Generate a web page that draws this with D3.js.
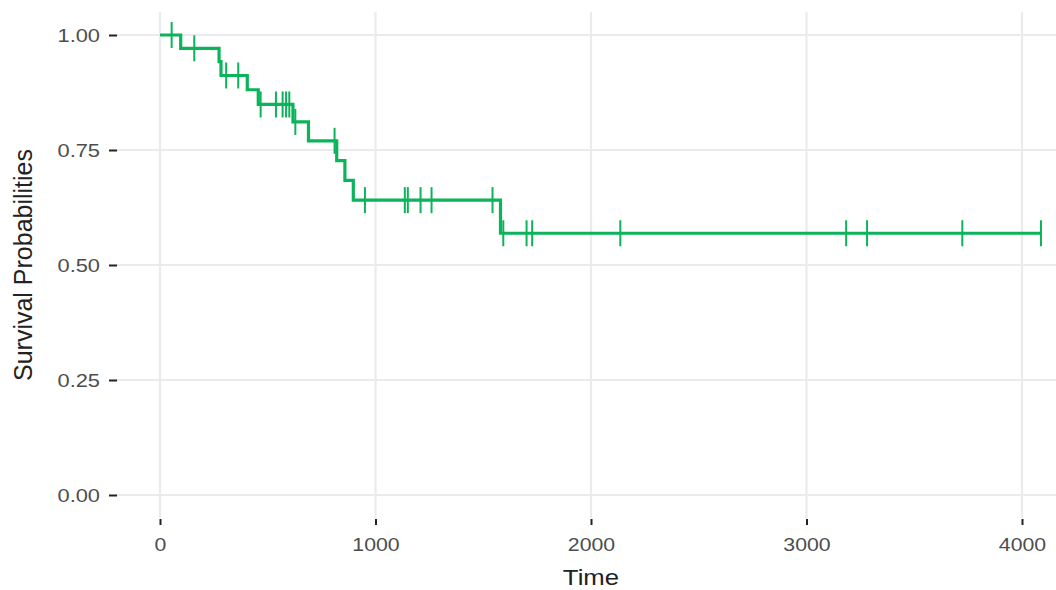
<!DOCTYPE html>
<html>
<head>
<meta charset="utf-8">
<script src="https://cdn.jsdelivr.net/npm/d3@7"></script>
<style>
body{margin:0;background:#fff;}
svg{display:block;}
text{font-family:"Liberation Sans",Arial,sans-serif;}
</style>
</head>
<body>
<svg id="chart" width="1056" height="590"></svg>
<script>
// step times (deaths) and survival after each step
var stepTimes = [0, 96, 274, 283, 405, 456, 617, 689, 820, 858, 897, 1580];
var stepSurv = [1.0, 0.971, 0.942, 0.912, 0.881, 0.849, 0.811, 0.770, 0.727, 0.684, 0.641, 0.569];
var lastTime = 4088;
// censored times
var censorTimes = [54, 159, 307, 363, 467, 538, 569, 585, 600, 628, 810, 951, 1136, 1150, 1209, 1260,
	1543, 1593, 1701, 1727, 2136, 3184, 3281, 3723, 4088];
var xTicks = [0, 1000, 2000, 3000, 4000];
var yTicks = [0, 0.25, 0.5, 0.75, 1.0];
var yTickLabels = ["0.00", "0.25", "0.50", "0.75", "1.00"];

const chart = d3.select("#chart");
var green = "#0bb45a";
var panel = {left:116, right:1084, top:12, bottom:518};

var xScale = d3.scaleLinear()
	.domain([0, 4000])
	.range([160, 1022]);
var yScale = d3.scaleLinear()
	.domain([0, 1])
	.range([495, 35]);

function survAt(t){
	var s = stepSurv[0];
	for(var i=0;i<stepTimes.length;i++){
		if(stepTimes[i]<=t){ s = stepSurv[i]; }
	}
	return s;
}

// grid
chart.append("g")
	.selectAll("line")
	.data(xTicks)
	.enter()
	.append("line")
	.attr("x1",function(d){return xScale(d);})
	.attr("x2",function(d){return xScale(d);})
	.attr("y1",panel.top)
	.attr("y2",panel.bottom)
	.attr("stroke","#ebebeb")
	.attr("stroke-width",2.2);

chart.append("g")
	.selectAll("line")
	.data(yTicks)
	.enter()
	.append("line")
	.attr("x1",panel.left)
	.attr("x2",panel.right)
	.attr("y1",function(d){return yScale(d);})
	.attr("y2",function(d){return yScale(d);})
	.attr("stroke","#ebebeb")
	.attr("stroke-width",2.2);

// axes
var xAxis = d3.axisBottom(xScale)
	.tickValues(xTicks)
	.tickSize(6)
	.tickPadding(12)
	.tickFormat(d3.format("d"));
var yAxis = d3.axisLeft(yScale)
	.tickValues(yTicks)
	.tickSize(8)
	.tickPadding(9)
	.tickFormat(function(d,i){return yTickLabels[i];});

var gx = chart.append("g")
	.attr("transform","translate(0,519)")
	.call(xAxis);
var gy = chart.append("g")
	.attr("transform","translate(117,0)")
	.call(yAxis);

chart.selectAll(".domain").remove();
chart.selectAll(".tick line").attr("stroke","#222").attr("stroke-width",2);
chart.selectAll(".tick text")
	.attr("fill","#4d4d4d")
	.style("font-size","19px");

gx.selectAll(".tick text")
	.attr("y",0)
	.attr("dy",0)
	.attr("transform","translate(0,32) scale(1.12,1)");
gy.selectAll(".tick text")
	.attr("x",0)
	.attr("dy","0.35em")
	.attr("transform","translate(-17,0) scale(1.15,1)");

// survival curve
var curvePts = stepTimes.map(function(t,i){return [t, stepSurv[i]];});
curvePts.push([lastTime, stepSurv[stepSurv.length-1]]);

var line = d3.line()
	.x(function(d){return xScale(d[0]);})
	.y(function(d){return yScale(d[1]);})
	.curve(d3.curveStepAfter);

chart.append("path")
	.datum(curvePts)
	.attr("d",line)
	.attr("fill","none")
	.attr("stroke",green)
	.attr("stroke-width",3.2);

chart.append("g")
	.selectAll("line")
	.data(censorTimes)
	.enter()
	.append("line")
	.attr("x1",function(d){return xScale(d);})
	.attr("x2",function(d){return xScale(d);})
	.attr("y1",function(d){return yScale(survAt(d))-13;})
	.attr("y2",function(d){return yScale(survAt(d))+13;})
	.attr("stroke",green)
	.attr("stroke-width",2);

// titles
chart.append("text")
	.attr("transform","translate(" + xScale(2000) + ",585) scale(1.12,1)")
	.attr("text-anchor","middle")
	.attr("fill","#222")
	.style("font-size","23px")
	.text("Time");

chart.append("text")
	.attr("transform","translate(32,265) rotate(-90)")
	.attr("text-anchor","middle")
	.attr("fill","#222")
	.style("font-size","25px")
	.text("Survival Probabilities");
</script>
</body>
</html>
